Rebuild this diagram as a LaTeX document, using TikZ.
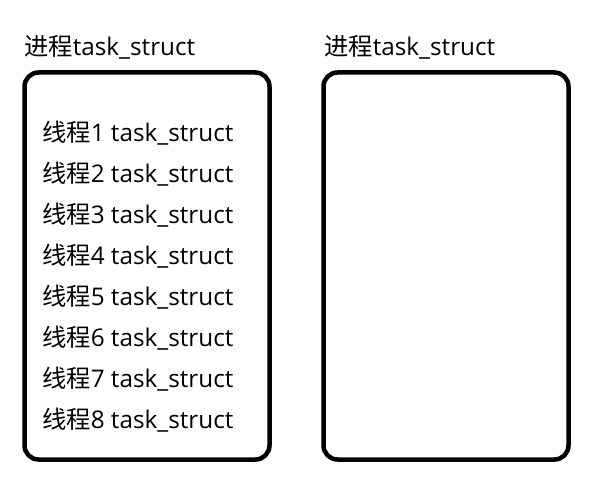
\documentclass[tikz,border=0pt]{standalone}
\usepackage{fontspec}
\setmainfont{Open Sans}
\newfontfamily\cjk{Noto Sans CJK SC}
\begin{document}
\begin{tikzpicture}[x=1pt,y=-1pt,
  box/.style={draw=black,line width=4.5pt,rounded corners=14pt},
  lbl/.style={anchor=base west,inner sep=0pt,font=\fontsize{24.3pt}{28pt}\selectfont}]
\useasboundingbox (0,0) rectangle (603,492);
\node[lbl] (t1) at (24,56) {{\cjk 进程}task\_struct};
\node[lbl] (t2) at (324,56) {{\cjk 进程}task\_struct};
\draw[box] (24.5,72.5) rectangle (269.5,459.5);
\draw[box] (323.5,72.5) rectangle (568.5,459.5);
\foreach \i in {1,...,8}{
  \node[lbl] (th\i) at (42,{141.5+41*(\i-1)}) {{\cjk 线程}\i{} task\_struct};
}
\end{tikzpicture}
\end{document}
